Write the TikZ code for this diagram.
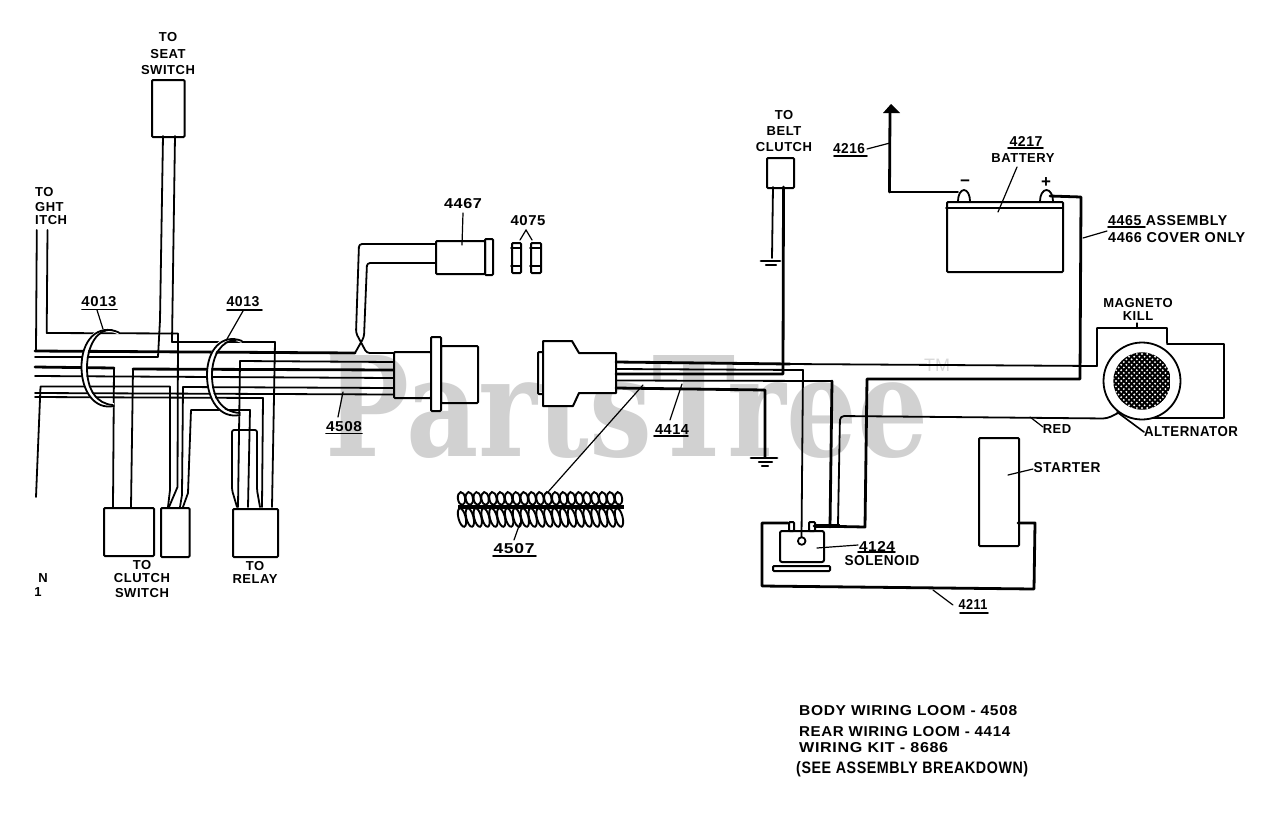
\documentclass[tikz,border=0pt]{standalone}
\usepackage{fontspec}
\usepackage{graphicx}
\setmainfont[LetterSpace=4]{Liberation Sans}
\newfontfamily\wmfont{DejaVu Serif}
\newfontfamily\tmfont{Liberation Sans}
\tikzset{
  wire/.style={draw=black,line width=1.8pt,line join=round,line cap=round},
  heavy/.style={draw=black,line width=2.8pt,line join=round,line cap=round},
  lead/.style={draw=black,line width=1.2pt,line cap=round},
  lbl/.style={inner sep=0pt,font=\fontsize{13}{14}\selectfont\bfseries,text=black,align=center},
  boxn/.style={draw=black,line width=2pt,rounded corners=1pt,inner sep=0pt,anchor=north west,fill=none},
}
\newcommand{\bx}[5]{\node[boxn,minimum width=#4pt,minimum height=#5pt] (#1) at (#2,#3) {};}
\newcommand{\fitw}[3]{\resizebox{#1pt}{#2pt}{\fontsize{13}{14}\selectfont\bfseries #3}}
\begin{document}
\begin{tikzpicture}[x=1pt,y=-1pt]
\useasboundingbox (0,0) rectangle (1280,815);
\fill[white] (0,0) rectangle (1280,815);
% watermark
\node[anchor=base west,inner sep=0pt,text=black!18] (wm) at (325,456)
  {\resizebox{603pt}{101pt}{\wmfont\fontsize{139}{139}\selectfont\bfseries PartsTree}};
\node[inner sep=0pt,text=black!15,font=\fontsize{18}{18}\selectfont\tmfont] (tm) at (937,365) {TM};

% ---- left bundle
\draw[heavy] (35,351) -- (355,353);
\draw[wire] (35,357) -- (158,357) -- (160,320) -- (163,136);
\draw[wire] (240,361) -- (393,362);
\draw[wire] (240,361) -- (238,507);
\draw[heavy] (35,367) -- (114,368);
\draw[wire] (114,368) -- (113,507);
\draw[heavy] (133,369) -- (393,370);
\draw[wire] (133,369) -- (131,507);
\draw[wire] (35,376) -- (393,378);
\draw[wire] (36,497) -- (40.5,386.5) -- (170,386.5) -- (170,490) -- (168,507);
\draw[wire] (183,387) -- (393,388);
\draw[wire] (183,387) -- (182,495) -- (180,507);
\draw[wire] (35,393) -- (393,394.5);
\draw[wire] (35,397) -- (263,398) -- (262,507);
\draw[wire] (47.5,230) -- (46.7,333) -- (178,333.5) -- (177.5,487) -- (169,507);
\draw[wire] (36.8,230) -- (36,351);
\draw[wire] (175,136) -- (172,342) -- (275,342) -- (272,507);
\draw[wire] (183,507) -- (188,493) -- (191,410) -- (250,410) -- (248,507);
\draw[wire,rounded corners=2pt] (237,507) -- (232,490) -- (232,430) -- (257,430) -- (257,490) -- (260,507);

% clamps
\draw[white,line width=4pt] (119,332.5) .. controls (98,322) and (84,340) .. (84,368) .. controls (84,392) and (95,408) .. (114,405);
\draw[wire] (119,332.5) .. controls (98,323) and (81,340) .. (81.5,368) .. controls (82,392) and (95,410) .. (114,406);
\draw[wire] (112,330) .. controls (98,328) and (87,345) .. (87,368) .. controls (87,390) and (97,404) .. (113,405);
\draw[white,line width=4pt] (242,341) .. controls (222,332) and (209,350) .. (209,375) .. controls (209,400) and (220,417) .. (240,414);
\draw[wire] (242,341) .. controls (222,333) and (207,350) .. (207,375) .. controls (207,400) and (220,419) .. (240,415);
\draw[wire] (236,340) .. controls (222,340) and (212,355) .. (212,375) .. controls (212,398) and (222,412) .. (240,413);

% boxes left
\bx{seatbox}{151}{79}{32.5}{57}
\bx{clutcha}{103}{507}{50}{48}
\bx{clutchb}{160}{507}{28.5}{49}
\bx{relay}{232}{508}{45}{48}

% 4467 and crossing
\draw[wire,rounded corners=3pt] (435,244) -- (359,244) -- (356,333) -- (366.7,353) -- (393,353);
\draw[wire,rounded corners=3pt] (435,263) -- (367,263) -- (364,337) -- (355,353);
\bx{pfour}{435}{240}{49}{33}
\bx{pfourcap}{484}{238}{8}{36}
% fuses 4075
\bx{fusea}{511}{242}{9}{30}
\bx{fuseb}{530}{242}{10}{30}
\draw[wire] (511,248) -- (520,248) (511,266) -- (520,266) (530,248) -- (540,248) (530,266) -- (540,266);
\draw[lead] (520,240) -- (526,230) -- (532,240);

% plug A
\bx{pluga}{393}{351}{37}{46}
\bx{plugb}{440}{345}{37}{57}
\node[boxn,fill=white,minimum width=10pt,minimum height=74pt] (flange) at (430,336) {};
% plug B
\bx{tab}{537}{351}{6}{42}
\draw[line width=2pt,fill=white,line join=round] (543,341) -- (572,341) -- (579,353) -- (616,353) -- (616,393) -- (579,393) -- (573,406) -- (543,406) -- cycle;

% ---- rear wires
\draw[heavy] (616,362) -- (790,364);
\draw[wire] (790,364) -- (1097,366) -- (1097,328) -- (1167,328) -- (1167,343);
\draw[wire] (616,369) -- (803,370) -- (801.5,537);
\draw[heavy] (616,374) -- (783,374) -- (783.5,187);
\draw[wire] (773,187) -- (772,258);
\draw[wire] (616,380.5) -- (832,381);
\draw[heavy] (832,381) -- (830,527);
\draw[heavy] (616,388) -- (765,390) -- (765,457);
\draw[heavy] (814,526) -- (865,527) -- (867,379) -- (1080,379) -- (1081,197) -- (1050,196);
\draw[wire,rounded corners=4pt] (838,524) -- (840,416) -- (1107,418.5) -- (1118,413);

% grounds
\draw[heavy] (751,458) -- (777,458);
\draw[wire,line width=2.2pt] (759,462) -- (772,462) (762,466) -- (768,466);
\draw[heavy] (761,261) -- (780,261);
\draw[wire,line width=2.2pt] (766,265) -- (776,265);

% belt box
\bx{beltbox}{766}{157}{27}{30}

% ---- 4216 wire & battery
\draw[heavy] (890,110) -- (889.5,192);
\draw[wire] (889.5,192) -- (958,192);
\fill[black] (883,113) -- (891,104) -- (900,113) -- cycle;
\node[boxn,minimum width=116pt,minimum height=70pt] (batt) at (946,201) {};
\draw[wire] (946,208) -- (1062,208);
\draw[wire] (958,201) arc[start angle=180,end angle=360,x radius=6,y radius=11];
\draw[wire] (1040,201) arc[start angle=180,end angle=360,x radius=6.5,y radius=11];

% ---- alternator
\draw[wire] (1167,344) -- (1224,344) -- (1224,418) -- (1142,418);
\draw[wire,fill=white] (1142,381) circle (38.5);
\begin{scope}
  \clip (1142,381) circle (28.7);
  \fill[black] (1142,381) circle (28.7);
  \foreach \i in {-8,...,8} \foreach \j in {-11,...,11} {
    \fill[white] ({1142+(\i+0.5*mod(\j+12,2))*5.2},{381+\j*2.7}) circle (1.05);
  }
\end{scope}

% ---- starter, frame, solenoid
\bx{starter}{978}{437}{40}{108}
\draw[heavy] (1018,523) -- (1035,523) -- (1034,589) -- (762,586) -- (762,523) -- (788,523);
\node[boxn,minimum width=44pt,minimum height=31pt,rounded corners=2pt] (sol) at (779,530) {};
\bx{tera}{788}{521}{5}{9}
\bx{terb}{808}{521}{6}{9}
\bx{plate}{772}{565}{57}{5}
\draw[wire,fill=white] (801.7,541) circle (3.8);
\fill[black] (814,524) rectangle (840,528);

% ---- coil 4507
\foreach \k in {0,...,20} {
  \draw[line width=1.9pt] ({461.5+\k*7.85},498.5) ellipse[x radius=3.6,y radius=6.5,rotate=8];
  \draw[line width=1.9pt] ({462+\k*7.85},517.5) ellipse[x radius=3.6,y radius=9.5,rotate=14];
}
\fill[black] (458,505) rectangle (624,508.5);

% ---- leaders & labels
\node[lbl,anchor=west] (lto) at (35,192) {TO};
\node[lbl,anchor=west] (lght) at (35,207) {GHT};
\node[lbl,anchor=west] (litch) at (35,220) {ITCH};
\node[lbl] (sto) at (168,37) {TO};
\node[lbl] (sseat) at (168,54) {SEAT};
\node[lbl] (ssw) at (168,70) {SWITCH};
\node[lbl] (cto) at (142,565) {TO};
\node[lbl] (ccl) at (142,578) {CLUTCH};
\node[lbl] (csw) at (142,593) {SWITCH};
\node[lbl] (rto) at (255,566) {TO};
\node[lbl] (rrl) at (255,579) {RELAY};
\node[lbl] (nn) at (43,578) {N};
\node[lbl] (ni) at (38,592) {1};

\node[lbl] (na) at (99,302) {\fitw{35}{10}{4013}};
\draw[wire] (82,309.5) -- (117,309.5);
\draw[lead] (97,310) -- (103,329);
\node[lbl] (nb) at (243,302) {\fitw{33}{10}{4013}};
\draw[wire] (227,310) -- (262,310);
\draw[lead] (243,311) -- (227,339);
\node[lbl] (n4467) at (463,204) {\fitw{38}{10}{4467}};
\draw[lead] (463,213) -- (462,245);
\node[lbl] (n4075) at (528,221) {\fitw{35}{10}{4075}};
\node[lbl] (n4508) at (344,427) {\fitw{36}{10}{4508}};
\draw[wire] (326,433.5) -- (362,433.5);
\draw[lead] (343,392) -- (338,417);
\node[lbl] (n4414) at (672,429) {\fitw{34}{10}{4414}};
\draw[wire] (654,436) -- (688,436);
\draw[lead] (682,384) -- (670,420);
\draw[lead] (643,385) -- (548,492);
\node[lbl] (n4507) at (514,549) {\fitw{41}{10}{4507}};
\draw[wire] (493,556) -- (536,556);
\draw[lead] (520,523) -- (514,540);

\node[lbl] (bto) at (784,115) {TO};
\node[lbl] (bbe) at (784,131) {BELT};
\node[lbl] (bcl) at (784,147) {CLUTCH};
\node[lbl] (n4216) at (849,149) {\fitw{32}{10}{4216}};
\draw[wire] (834,156) -- (867,156);
\draw[lead] (867,149) -- (890,143);
\node[lbl] (n4217) at (1026,141) {\fitw{33}{10}{4217}};
\draw[wire] (1008,148) -- (1043,148);
\node[lbl] (nbat) at (1023,158) {BATTERY};
\draw[lead] (1017,167) -- (998,212);
\node[lbl,font=\fontsize{17}{17}\selectfont\bfseries] (nminus) at (965,183) {\textminus};
\node[lbl,font=\fontsize{17}{17}\selectfont\bfseries] (nplus) at (1046,183) {+};
\node[lbl,anchor=west] (n4465) at (1108,221) {\fitw{119}{10}{4465 ASSEMBLY}};
\draw[wire] (1108,227) -- (1145,227);
\node[lbl,anchor=west] (n4466) at (1108,238) {\fitw{137}{10}{4466 COVER ONLY}};
\draw[lead] (1083,238) -- (1107,231);
\node[lbl] (nmag) at (1138,303) {MAGNETO};
\node[lbl] (nkil) at (1138,316) {KILL};
\draw[lead] (1137,323) -- (1137,328);
\node[lbl] (nred) at (1057,429) {RED};
\draw[lead] (1030,417) -- (1043,427);
\node[lbl] (nalt) at (1191,432) {\fitw{94}{10}{ALTERNATOR}};
\draw[lead,line width=1.6pt] (1117,412) -- (1144,432);
\node[lbl] (nsta) at (1067,468) {\fitw{67}{10}{STARTER}};
\draw[lead] (1008,475) -- (1033,469);
\node[lbl] (n4124) at (877,546) {\fitw{36}{10}{4124}};
\draw[wire] (858,552) -- (895,552);
\draw[lead] (817,548) -- (858,545);
\node[lbl] (nsol) at (882,561) {\fitw{75}{10}{SOLENOID}};
\node[lbl] (n4211) at (973,604) {\fitw{29}{10}{4211}};
\draw[wire] (960,613) -- (988,613);
\draw[lead] (933,590) -- (953,605);

\node[lbl,anchor=west] (t1) at (799,711) {\fitw{218}{10}{BODY  WIRING LOOM - 4508}};
\node[lbl,anchor=west] (t2) at (799,732) {\fitw{211}{10}{REAR WIRING LOOM - 4414}};
\node[lbl,anchor=west] (t3) at (799,748) {\fitw{149}{10}{WIRING  KIT - 8686}};
\node[lbl,anchor=west] (t4) at (796,769) {\fitw{232}{12}{(SEE ASSEMBLY BREAKDOWN)}};
\end{tikzpicture}
\end{document}
